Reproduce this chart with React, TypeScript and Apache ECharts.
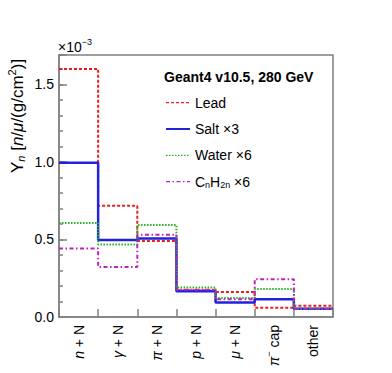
import React, { useEffect, useRef } from 'react';
import * as echarts from 'echarts';

// ---- data (values in units of 1e-3) ----
const categories = ['n + N', 'γ + N', 'π + N', 'p + N', 'μ + N', 'π- cap', 'other'];
const leadValues = [1.6, 0.717, 0.49, 0.172, 0.161, 0.06, 0.072];
const saltValues = [0.995, 0.496, 0.507, 0.166, 0.094, 0.115, 0.053];
const waterValues = [0.607, 0.468, 0.593, 0.19, 0.123, 0.181, 0.053];
const cnh2nValues = [0.442, 0.323, 0.53, 0.175, 0.115, 0.244, 0.053];
const seriesNames = ['Lead', 'Salt ×3', 'Water ×6', 'CnH2n ×6'];
const yTickLabels = [0, 0.5, 1.0, 1.5];
const yMax = 1.69;

const FONT = 'Liberation Sans, Arial, Helvetica, sans-serif';
const AXIS_COLOR = '#808080';

const toSteps = (vals: number[]) => [
  ...vals.map((v, i) => [i, v]),
  [vals.length, vals[vals.length - 1]],
];

const baseRich = (size: number) => ({
  b: { fontSize: size, fontFamily: FONT, color: '#000', lineHeight: 20, verticalAlign: 'middle' },
  i: { fontSize: size, fontFamily: FONT, fontStyle: 'italic', color: '#000', lineHeight: 20, verticalAlign: 'middle' },
  sup: { fontSize: Math.round(size * 0.65), fontFamily: FONT, color: '#000', lineHeight: 9, padding: [0, 0, 10, 0], verticalAlign: 'middle' },
  sub: { fontSize: Math.round(size * 0.65), fontFamily: FONT, color: '#000', lineHeight: 9, padding: [7, 0, 0, 0], verticalAlign: 'middle' },
  isub: { fontSize: Math.round(size * 0.65), fontFamily: FONT, fontStyle: 'italic', color: '#000', lineHeight: 9, padding: [7, 0, 0, 0], verticalAlign: 'middle' },
});

const fmtCat = (v: string) => {
  if (v === 'other') return '{b|other}';
  if (v === 'π- cap') return '{i|π}{sup|−}{b| cap}';
  const parts = v.split(' ');
  return `{i|${parts[0]}}{b| ${parts.slice(1).join(' ')}}`;
};

const fmtLegend = (name: string) => {
  if (name === 'CnH2n ×6') return '{b|C}{sub|n}{b|H}{sub|2n}{b| ×6}';
  return `{b|${name}}`;
};

export default function App() {
  const ref = useRef<HTMLDivElement>(null);
  useEffect(() => {
    if (!ref.current) return;
    const chart = echarts.init(ref.current, undefined, { renderer: 'svg' });
    const styles = [
      { color: '#ee1c1c', width: 2, type: [3, 2] },
      { color: '#2222dd', width: 2.5, type: 'solid' },
      { color: '#22b422', width: 2, type: [1.5, 1.5] },
      { color: '#c020c0', width: 2, type: [4, 2.5, 1.5, 2.5] },
    ];
    const valueSets = [leadValues, saltValues, waterValues, cnh2nValues];
    const legendWidths = [1.2, 2, 1.2, 1.2];
    chart.setOption({
      animation: false,
      textStyle: { fontFamily: FONT },
      grid: {
        left: 59, right: 59, top: 55, bottom: 56,
        show: true, borderColor: AXIS_COLOR, borderWidth: 1.5,
      },
      xAxis: [
        {
          type: 'value', min: 0, max: categories.length, interval: 1,
          axisLine: { show: true, lineStyle: { color: AXIS_COLOR, width: 1.5 } },
          axisTick: { show: true, inside: true, length: 8, lineStyle: { color: AXIS_COLOR, width: 1.5 } },
          axisLabel: { show: false },
          splitLine: { show: false },
        },
        {
          type: 'category', data: categories, boundaryGap: true, position: 'bottom',
          axisLine: { show: false }, axisTick: { show: false }, splitLine: { show: false },
          axisLabel: {
            rotate: 90, margin: 8, interval: 0,
            formatter: fmtCat, rich: baseRich(14),
          },
        },
      ],
      yAxis: [
        {
          type: 'value', min: 0, max: yMax, interval: 0.5,
          axisLine: { show: true, lineStyle: { color: AXIS_COLOR, width: 1.5 } },
          axisTick: { show: true, inside: true, length: 8, lineStyle: { color: AXIS_COLOR, width: 1.5 } },
          axisLabel: {
            margin: 5, fontSize: 14, color: '#000', fontFamily: FONT,
            formatter: (v: number) => (yTickLabels.some((t) => Math.abs(t - v) < 1e-6) ? v.toFixed(1) : ''),
          },
          splitLine: { show: false },
        },
        {
          type: 'value', min: 0, max: yMax, interval: 0.1, position: 'left',
          axisLine: { show: false },
          axisTick: { show: true, inside: true, length: 4, lineStyle: { color: AXIS_COLOR, width: 1.5 } },
          axisLabel: { show: false },
          splitLine: { show: false },
        },
      ],
      legend: {
        orient: 'vertical', left: 165, top: 92.7, padding: 0,
        itemWidth: 24, itemHeight: 20, itemGap: 6.3,
        itemStyle: { opacity: 0 },
        data: seriesNames.map((n, k) => ({ name: n, lineStyle: { width: legendWidths[k] }, itemStyle: { opacity: 0 } })),
        formatter: fmtLegend,
        textStyle: { fontSize: 14, color: '#000', lineHeight: 20, rich: baseRich(14) },
      },
      graphic: [
        {
          type: 'text', x: 164, y: 77,
          style: { text: 'Geant4 v10.5, 280 GeV', font: `bold 14px ${FONT}`, fill: '#000', verticalAlign: 'middle', align: 'left' },
        },
        {
          type: 'text', x: 58, y: 47,
          style: { text: '{b|×10}{sup|−3}', rich: baseRich(14), fontSize: 14, fontFamily: FONT, verticalAlign: 'middle', align: 'left' },
        },
        {
          type: 'text', x: 17, y: 173, rotation: Math.PI / 2,
          style: {
            text: '{b|Y}{isub|n}{b| [}{i|n}{b|/}{i|μ}{b|/(g/cm}{sup|2}{b|)]}',
            rich: baseRich(17), fontSize: 17, fontFamily: FONT, verticalAlign: 'middle', align: 'left',
          },
        },
      ],
      series: valueSets.map((vals, k) => ({
        name: seriesNames[k],
        type: 'line',
        xAxisIndex: 0,
        yAxisIndex: 0,
        step: 'end',
        symbol: 'none',
        data: toSteps(vals),
        lineStyle: { color: styles[k].color, width: styles[k].width, type: styles[k].type },
        itemStyle: { color: styles[k].color },
        z: 3 + k,
      })),
    });
    return () => chart.dispose();
  }, []);
  return <div ref={ref} style={{ width: 392, height: 373, position: 'absolute', left: 0, top: 0, background: '#fff' }} />;
}
